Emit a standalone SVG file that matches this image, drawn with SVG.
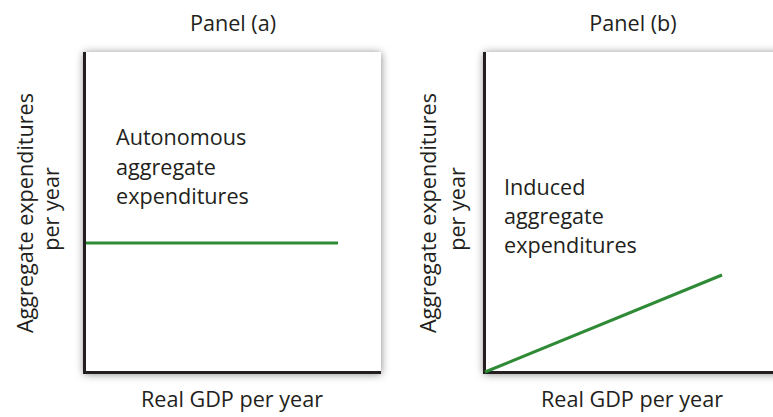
<svg xmlns="http://www.w3.org/2000/svg" width="773" height="417" viewBox="0 0 773 417">
<style>
text{font-family:"Open Sans","Noto Sans","Liberation Sans",sans-serif;fill:#231f20;}
.t{font-size:21.6px;}
.axis{stroke:#231f20;stroke-width:3;fill:none;}
.curve{stroke:#2f8a35;stroke-width:3;fill:none;}
</style>
<defs>
<filter id="sh" x="-10%" y="-10%" width="120%" height="120%">
<feDropShadow dx="0" dy="1" stdDeviation="4" flood-color="#000" flood-opacity="0.5"/>
</filter>
</defs>
<rect width="773" height="417" fill="#fff"/>
<g id="panel-a">
<text class="t" x="233" y="31" text-anchor="middle">Panel (a)</text>
<rect x="84" y="52" width="297" height="321" fill="#fff" filter="url(#sh)"/>
<text class="t" transform="translate(33,213) rotate(-90)" text-anchor="middle">Aggregate expenditures</text>
<text class="t" transform="translate(59,209) rotate(-90)" text-anchor="middle">per year</text>
<text class="t" x="116" y="145">Autonomous</text>
<text class="t" x="116" y="175">aggregate</text>
<text class="t" x="116" y="204">expenditures</text>
<text class="t" x="232" y="407" text-anchor="middle">Real GDP per year</text>
</g>
<g id="panel-b">
<text class="t" x="633" y="31" text-anchor="middle">Panel (b)</text>
<rect x="484" y="52" width="300" height="321" fill="#fff" filter="url(#sh)"/>
<text class="t" transform="translate(436,213) rotate(-90)" text-anchor="middle">Aggregate expenditures</text>
<text class="t" transform="translate(465,209) rotate(-90)" text-anchor="middle">per year</text>
<text class="t" x="504" y="195">Induced</text>
<text class="t" x="504" y="224">aggregate</text>
<text class="t" x="504" y="253">expenditures</text>
<text class="t" x="632" y="407" text-anchor="middle">Real GDP per year</text>
</g>
<g id="connectors">
<path class="axis" d="M84.5 52 V372.5 H381"/>
<path class="axis" d="M484.5 52 V372.5 H773"/>
<line class="curve" x1="86" y1="243" x2="338" y2="243"/>
<line class="curve" x1="485" y1="372" x2="722" y2="275"/>
</g>
</svg>
